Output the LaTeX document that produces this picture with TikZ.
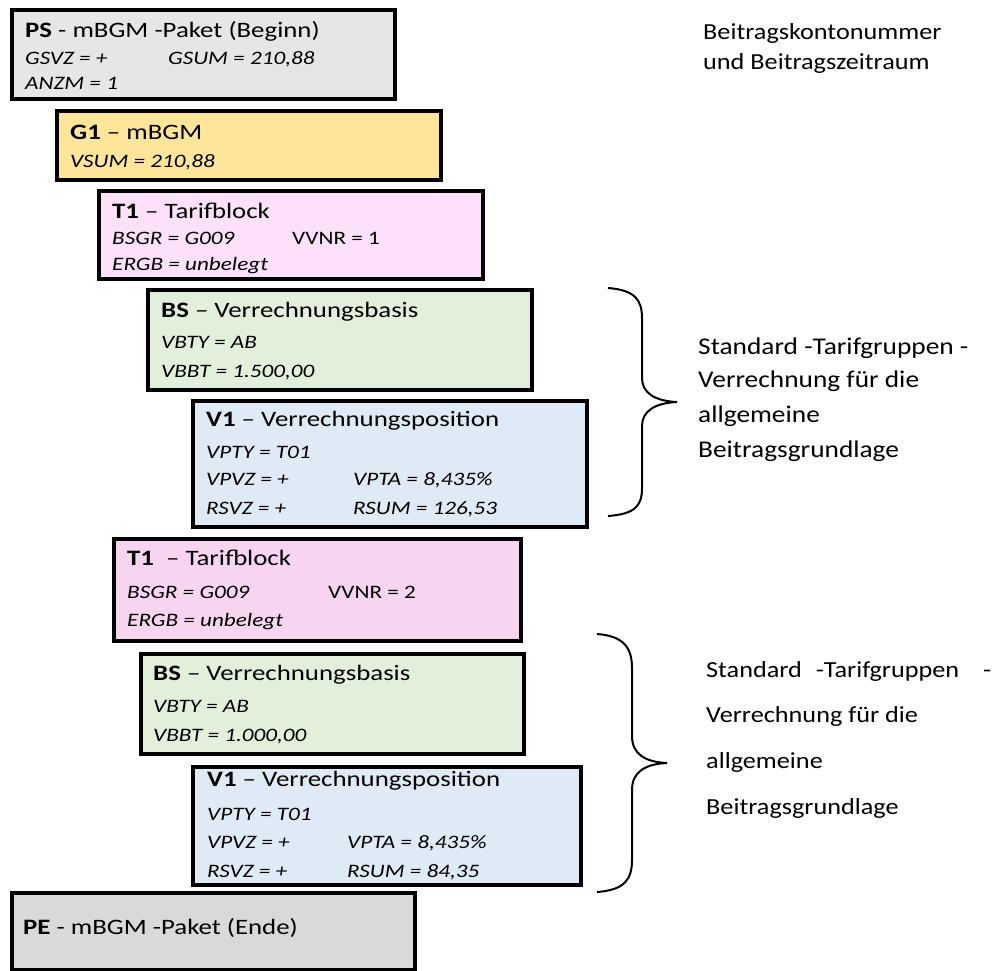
\documentclass[tikz,border=0pt]{standalone}
\usepackage{fontspec}
\setmainfont{Carlito}
\newfontfamily\boxfont{Carlito}[FakeStretch=1.22]
\newfontfamily\sidefont{Carlito}[FakeStretch=1.14]

\definecolor{psgray}{HTML}{E7E6E6}
\definecolor{pegray}{HTML}{D9D9D9}
\definecolor{gelb}{HTML}{FFE599}
\definecolor{rosa}{HTML}{FDE1FB}
\definecolor{rosab}{HTML}{F7D5F1}
\definecolor{gruen}{HTML}{E2EFDA}
\definecolor{blau}{HTML}{DEEAF6}

\tikzset{
    blk/.style={draw=black, line width=4pt, anchor=north west, inner sep=0pt},
    hd/.style={anchor=base west, inner sep=0pt, font=\boxfont\fontsize{22}{22}\selectfont},
    fld/.style={anchor=base west, inner sep=0pt, font=\boxfont\fontsize{19}{19}\selectfont\itshape},
    val/.style={anchor=base west, inner sep=0pt, font=\boxfont\fontsize{19}{19}\selectfont},
    side/.style={anchor=base west, inner sep=0pt, font=\sidefont\fontsize{24}{24}\selectfont},
    sideb/.style={side, font=\sidefont\fontsize{23}{23}\selectfont},
    brace/.style={line width=2pt},
}

\begin{document}
\begin{tikzpicture}[x=1pt, y=-1pt]
\useasboundingbox (0,0) rectangle (999,970);

% Paket-Anfang
\node [blk, fill=psgray, minimum width=383pt, minimum height=89pt] (ps) at (10,8) {};
\node [hd] (ps-t) at (25,37) {\textbf{PS} - mBGM -Paket (Beginn)};
\node [fld] (ps-a) at (25,64) {GSVZ = +};
\node [fld] (ps-b) at (168,64) {GSUM = 210,88};
\node [fld] (ps-c) at (25,89) {ANZM = 1};

% Gruppe
\node [blk, fill=gelb, minimum width=384pt, minimum height=69pt] (g1) at (55,109) {};
\node [hd] (g1-t) at (70,139) {\textbf{G1} – mBGM};
\node [fld] (g1-a) at (70,167) {VSUM = 210,88};

% Tarifblock 1
\node [blk, fill=rosa, minimum width=384pt, minimum height=88pt] (t1) at (97,189) {};
\node [hd] (t1-t) at (112,218) {\textbf{T1} – Tarifblock};
\node [fld] (t1-a) at (112,244) {BSGR = G009};
\node [val] (t1-b) at (292,244) {VVNR = 1};
\node [fld] (t1-c) at (112,270) {ERGB = unbelegt};

\node [blk, fill=gruen, minimum width=384pt, minimum height=100pt] (bs) at (146,288) {};
\node [hd] (bs-t) at (161,317) {\textbf{BS} – Verrechnungsbasis};
\node [fld] (bs-a) at (161,348) {VBTY = AB};
\node [fld] (bs-b) at (161,377) {VBBT = 1.500,00};

\node [blk, fill=blau, minimum width=394pt, minimum height=126pt] (v1) at (191,399) {};
\node [hd] (v1-t) at (206,426) {\textbf{V1} – Verrechnungsposition};
\node [fld] (v1-a) at (206,458) {VPTY = T01};
\node [fld] (v1-b) at (206,485) {VPVZ = +};
\node [fld] (v1-c) at (353,485) {VPTA = 8,435\%};
\node [fld] (v1-d) at (206,514) {RSVZ = +};
\node [fld] (v1-e) at (353,514) {RSUM = 126,53};

% Tarifblock 2
\node [blk, fill=rosab, minimum width=407pt, minimum height=102pt] (t1b) at (112,537) {};
\node [hd] (t1b-t) at (127,565) {\textbf{T1} ~– Tarifblock};
\node [fld] (t1b-a) at (127,598) {BSGR = G009};
\node [val] (t1b-b) at (328,598) {VVNR = 2};
\node [fld] (t1b-c) at (127,626) {ERGB = unbelegt};

\node [blk, fill=gruen, minimum width=383pt, minimum height=100pt] (bsb) at (139,652) {};
\node [hd] (bsb-t) at (153,680) {\textbf{BS} – Verrechnungsbasis};
\node [fld] (bsb-a) at (153,712) {VBTY = AB};
\node [fld] (bsb-b) at (153,741) {VBBT = 1.000,00};

\node [blk, fill=blau, minimum width=388pt, minimum height=118pt] (v1b) at (191,765) {};
\node [hd] (v1b-t) at (207,786) {\textbf{V1} – Verrechnungsposition};
\node [fld] (v1b-a) at (207,820) {VPTY = T01};
\node [fld] (v1b-b) at (207,848) {VPVZ = +};
\node [fld] (v1b-c) at (347,848) {VPTA = 8,435\%};
\node [fld] (v1b-d) at (207,877) {RSVZ = +};
\node [fld] (v1b-e) at (347,877) {RSUM = 84,35};

% Paket-Ende
\node [blk, fill=pegray, minimum width=403pt, minimum height=77pt] (pe) at (10,891) {};
\node [hd] (pe-t) at (23,934) {\textbf{PE} - mBGM -Paket (Ende)};

% Erlaeuterungen rechts
\node [sideb] (kto-1) at (703,39) {Beitragskontonummer};
\node [sideb] (kto-2) at (703,69) {und Beitragszeitraum};

\draw [brace] (608,288) .. controls (635,290) and (642,300) .. (642,318) -- (642,378)
    .. controls (642,393) and (655,401) .. (677,402)
    .. controls (655,403) and (642,411) .. (642,426) -- (642,488)
    .. controls (642,506) and (635,514) .. (608,516);
\node [side] (std-1) at (698,354) {Standard -Tarifgruppen -};
\node [side] (std-2) at (698,387) {Verrechnung für die};
\node [side] (std-3) at (698,422) {allgemeine};
\node [side] (std-4) at (698,457) {Beitragsgrundlage};

\draw [brace] (597,634) .. controls (624,636) and (632,648) .. (632,668) -- (632,736)
    .. controls (632,754) and (645,762) .. (667,763)
    .. controls (645,764) and (632,772) .. (632,790) -- (632,860)
    .. controls (632,880) and (624,890) .. (597,892);
\node [sideb] (stdb-1) at (706,677) {Standard\hspace{14pt}-Tarifgruppen\hspace{24pt}-};
\node [sideb] (stdb-2) at (706,722) {Verrechnung für die};
\node [sideb] (stdb-3) at (706,768) {allgemeine};
\node [sideb] (stdb-4) at (706,814) {Beitragsgrundlage};
\end{tikzpicture}
\end{document}
